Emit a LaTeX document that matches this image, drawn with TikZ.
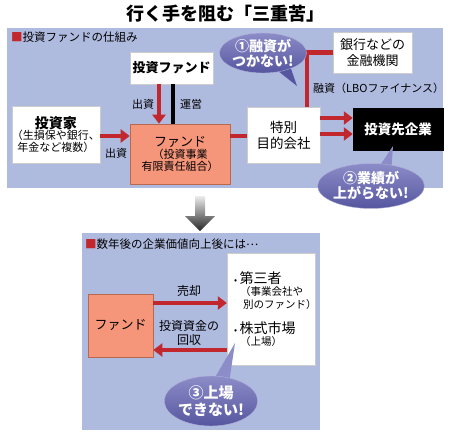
\documentclass[tikz,border=0pt]{standalone}
\usepackage{fontspec}
\setmainfont{Noto Sans CJK JP}
\usetikzlibrary{arrows.meta,calc,shapes.geometric}
\definecolor{panel}{HTML}{AFBADF}
\definecolor{redc}{HTML}{C1272D}
\definecolor{orangec}{HTML}{F5957A}
\definecolor{orangeb}{HTML}{B8684E}
\definecolor{bubt}{HTML}{8C8CC8}
\definecolor{bubb}{HTML}{5656A0}
\tikzset{
  wbox/.style={draw=gray!40,line width=0.3pt,fill=white,align=center,inner sep=0pt},
  obox/.style={draw=orangeb,line width=0.6pt,fill=orangec,align=center,inner sep=0pt},
  redline/.style={draw=redc,line width=4.5pt},
  redarrow/.style={draw=redc,line width=4.5pt,-{Triangle[length=9pt,width=13pt]}},
  lbl/.style={font=\fontsize{11}{13}\selectfont,inner sep=0pt},
  bubble/.style={ellipse,inner sep=0pt,top color=bubt,bottom color=bubb,draw=bubt!70!white,line width=0.4pt,
    text=white,align=center,font=\bfseries\fontsize{14}{15}\selectfont},
}
\begin{document}
\begin{tikzpicture}[x=1pt,y=-1pt]
\useasboundingbox[fill=white] (0,0) rectangle (450,437);
% title
\node[inner sep=0pt,font=\bfseries\fontsize{18}{20}\selectfont] (title) at (225,14) {行く手を阻む「三重苦」};
% top panel
\fill[panel] (7,28) rectangle (443,188);
\node[anchor=west,inner sep=0pt,font=\fontsize{11.5}{13}\selectfont] (sec1) at (11,37) {\textcolor{redc}{■}投資ファンドの仕組み};
% nodes
\node[wbox,minimum width=83pt,minimum height=32pt,font=\bfseries\fontsize{13}{15}\selectfont] (fundco) at (171.5,68) {投資ファンド};
\node[wbox,minimum width=79pt,minimum height=41pt,font=\fontsize{13}{16}\selectfont] (bank) at (372.5,52.5) {銀行などの\\金融機関};
\node[wbox,minimum width=86pt,minimum height=57pt] (inv) at (56,134.5)
  {{\bfseries\fontsize{14}{16}\selectfont 投資家}\\[-1pt]{\fontsize{11}{13}\selectfont （生損保や銀行、}\\{\fontsize{11}{13}\selectfont 年金など複数）}};
\node[obox,minimum width=100pt,minimum height=60pt] (fund) at (180,154)
  {{\fontsize{13}{15}\selectfont ファンド}\\{\fontsize{11}{13}\selectfont （投資事業}\\{\fontsize{11}{13}\selectfont 有限責任組合）}};
\node[wbox,minimum width=73pt,minimum height=56pt,font=\fontsize{13.5}{16}\selectfont] (spv) at (283.5,135) {特別\\目的会社};
\node[draw=black,fill=black,text=white,inner sep=0pt,minimum width=90pt,minimum height=42pt,font=\bfseries\fontsize{13.5}{15}\selectfont] (tgt) at (398,129) {投資先企業};
% connectors
\draw[redarrow] ([xshift=-12.5pt]fundco.south) -- ([xshift=-12.5pt]fundco.south |- fund.north);
\draw[draw=black,line width=4.5pt] ([xshift=1.5pt]fundco.south) -- ([xshift=1.5pt]fundco.south |- fund.north);
\draw[redarrow] (inv.east |- 0,136) -- (fund.west |- 0,136);
\draw[redline] (fund.east |- 0,136) -- (spv.west |- 0,136);
\draw[redarrow] (spv.east |- 0,118) -- (tgt.west |- 0,118);
\draw[redarrow] (spv.east |- 0,134) -- (tgt.west |- 0,134);
\draw[redline] (bank.west) -| ([xshift=23.5pt]spv.north);
% labels
\node[lbl] (l1) at (143,104) {出資};
\node[lbl] (l2) at (191,104) {運営};
\node[lbl] (l3) at (116,153) {出資};
\node[lbl,anchor=west] (l4) at (313,88) {融資（LBOファイナンス）};
% bubble 1
\coordinate (t1) at (297,86);
\fill[bubb] ($(263,53)+(10,14)$) -- (t1) -- ($(263,53)+(26,10)$) -- cycle;
\node[bubble,minimum width=84pt,minimum height=40pt] (b1) at (263,53) {①融資が\\つかない!};
% bubble 2
\coordinate (t2) at (393,146);
\fill[bubt] ($(371,186)+(6,-16)$) -- (t2) -- ($(371,186)+(20,-12)$) -- cycle;
\node[bubble,minimum width=82pt,minimum height=45pt] (b2) at (371,186) {②業績が\\上がらない!};
% down arrow
\shade[top color=gray!15,bottom color=black!85] (195,196) -- (205,196) -- (205,216) -- (215,216) -- (200,231) -- (185,216) -- (195,216) -- cycle;
% bottom panel
\fill[panel] (82,233) rectangle (320,430);
\node[anchor=west,inner sep=0pt,font=\fontsize{11.5}{13}\selectfont] (sec2) at (85,244) {\textcolor{redc}{■}数年後の企業価値向上後には\raisebox{3pt}{…}};
\node[wbox,minimum width=88pt,minimum height=112pt] (buy) at (271,309) {};
\node[obox,minimum width=65pt,minimum height=63pt,font=\fontsize{13}{15}\selectfont] (fund2) at (120.5,325.5) {ファンド};
\draw[redarrow] (fund2.east |- 0,303) -- (buy.west |- 0,303);
\draw[redarrow] (buy.west |- 0,350) -- (fund2.east |- 0,350);
\node[lbl,font=\fontsize{12}{14}\selectfont] (l5) at (189,291) {売却};
\node[lbl,align=center,font=\fontsize{12}{14}\selectfont] (l6) at (189,333) {投資資金の\\回収};
\node[anchor=west,inner sep=0pt,font=\fontsize{14}{16}\selectfont] (s1) at (234,278) {{\fontsize{9}{10}\selectfont •}\,第三者};
\node[anchor=west,inner sep=0pt,font=\fontsize{10.5}{12}\selectfont] (s2) at (240,292) {（事業会社や};
\node[anchor=west,inner sep=0pt,font=\fontsize{10.5}{12}\selectfont] (s3) at (243,305) {別のファンド）};
\node[anchor=west,inner sep=0pt,font=\fontsize{14}{16}\selectfont] (s4) at (234,328) {{\fontsize{9}{10}\selectfont •}\,株式市場};
\node[anchor=west,inner sep=0pt,font=\fontsize{10.5}{12}\selectfont] (s5) at (240,342) {（上場）};
% bubble 3
\coordinate (t3) at (235,343);
\fill[bubt] ($(211,401)+(2,-20)$) -- (t3) -- ($(211,401)+(18,-18)$) -- cycle;
\node[bubble,minimum width=84pt,minimum height=50pt,font=\bfseries\fontsize{15}{17}\selectfont] (b3) at (211,401) {③上場\\できない!};
\end{tikzpicture}
\end{document}
